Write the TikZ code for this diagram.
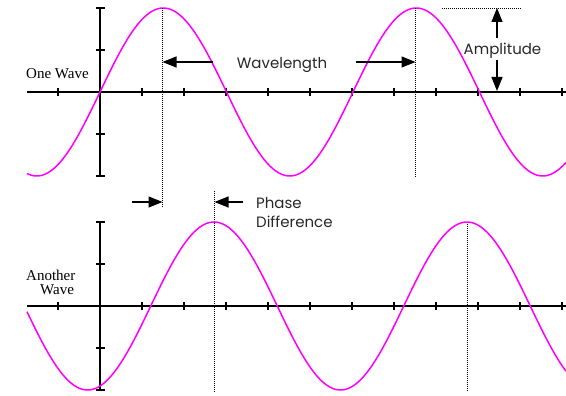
\documentclass[tikz,border=0pt]{standalone}
\usepackage{fontspec}
\setmainfont{Liberation Serif}
\newfontfamily\labelfont{Poppins}
\usetikzlibrary{arrows.meta}
\definecolor{wavecol}{RGB}{255,0,255}
\definecolor{labelcol}{RGB}{40,40,40}
\begin{document}
\begin{tikzpicture}[x=1pt,y=-1pt,
  axis/.style={line width=1.6pt,black},
  tickmark/.style={line width=1.3pt,black},
  wave/.style={wavecol,line width=1.5pt},
  guide/.style={black,line width=0.9pt,dash pattern=on 1pt off 1pt},
  pointer/.style={black,line width=1.2pt,-{Triangle[length=14pt,width=11pt]}},
  sanslabel/.style={font=\labelfont\fontsize{15}{17}\selectfont,inner sep=0pt,text=labelcol},
  seriflabel/.style={font=\fontsize{15}{15}\selectfont,inner sep=0pt}]
\useasboundingbox (0,0) rectangle (566,396);
\fill[white] (0,0) rectangle (566,396);

% ---------- top plot ----------
\coordinate (tl) at (27,92);
\coordinate (tr) at (566,92);
\coordinate (tv1) at (100,8);
\coordinate (tv2) at (100,176);
\draw[axis] (tl) -- (tr);
\draw[axis] (tv1) -- (tv2);
\foreach \x in {58,100,...,562} \draw[tickmark] (\x,88) -- (\x,96);
\foreach \y in {8,50,134,176} \draw[tickmark] (96,\y) -- (105,\y);
\draw[wave] plot[domain=27:566,samples=240,smooth] (\x,{92-84*sin(1.422925*(\x-100))});

% guides
\coordinate (p1top) at (162.5,8);
\coordinate (p1bot) at (162.5,207);
\coordinate (p2top) at (415.5,8);
\coordinate (p2bot) at (415.5,178);
\draw[guide] (p1top) -- (p1bot);
\draw[guide] (p2top) -- (p2bot);
\coordinate (ampL) at (442,8);
\coordinate (ampR) at (522,8);
\draw[guide] (ampL) -- (ampR);

% wavelength
\node[sanslabel,anchor=base] (wl) at (282,69) {Wavelength};
\coordinate (wlA) at (213,62);
\coordinate (wlAt) at (162.5,62);
\coordinate (wlB) at (356,62);
\coordinate (wlBt) at (415.5,62);
\draw[pointer] (wlA) -- (wlAt);
\draw[pointer] (wlB) -- (wlBt);

% amplitude
\node[sanslabel,anchor=base] (amp) at (502.5,54.3) {Amplitude};
\coordinate (amU) at (497,38);
\coordinate (amUt) at (497,8);
\coordinate (amD) at (497,60);
\coordinate (amDt) at (497,91);
\draw[pointer] (amU) -- (amUt);
\draw[pointer] (amD) -- (amDt);

\node[seriflabel,anchor=base west] (one) at (26,78.3) {One Wave};

% ---------- phase difference ----------
\coordinate (q1top) at (214.5,191);
\coordinate (q1bot) at (214.5,393);
\draw[guide] (q1top) -- (q1bot);
\coordinate (phA) at (132,202);
\coordinate (phAt) at (162.5,202);
\coordinate (phB) at (243,202);
\coordinate (phBt) at (214.5,202);
\draw[pointer] (phA) -- (phAt);
\draw[pointer] (phB) -- (phBt);
\node[sanslabel,anchor=base west] (ph1) at (256,208) {Phase};
\node[sanslabel,anchor=base west] (ph2) at (256,227.7) {Difference};

% ---------- bottom plot ----------
\coordinate (bl) at (27,306);
\coordinate (br) at (566,306);
\coordinate (bv1) at (100,222);
\coordinate (bv2) at (100,390);
\draw[axis] (bl) -- (br);
\draw[axis] (bv1) -- (bv2);
\foreach \x in {58,100,...,562} \draw[tickmark] (\x,302) -- (\x,310);
\foreach \y in {222,264,348,390} \draw[tickmark] (96,\y) -- (105,\y);
\coordinate (q2top) at (467,222);
\coordinate (q2bot) at (467,392);
\draw[guide] (q2top) -- (q2bot);
\draw[wave] plot[domain=27:566,samples=240,smooth] (\x,{306-84*cos(1.422925*(\x-214))});

\node[seriflabel,anchor=base west] (an1) at (26,280) {Another};
\node[seriflabel,anchor=base west] (an2) at (40,294.3) {Wave};
\end{tikzpicture}
\end{document}
